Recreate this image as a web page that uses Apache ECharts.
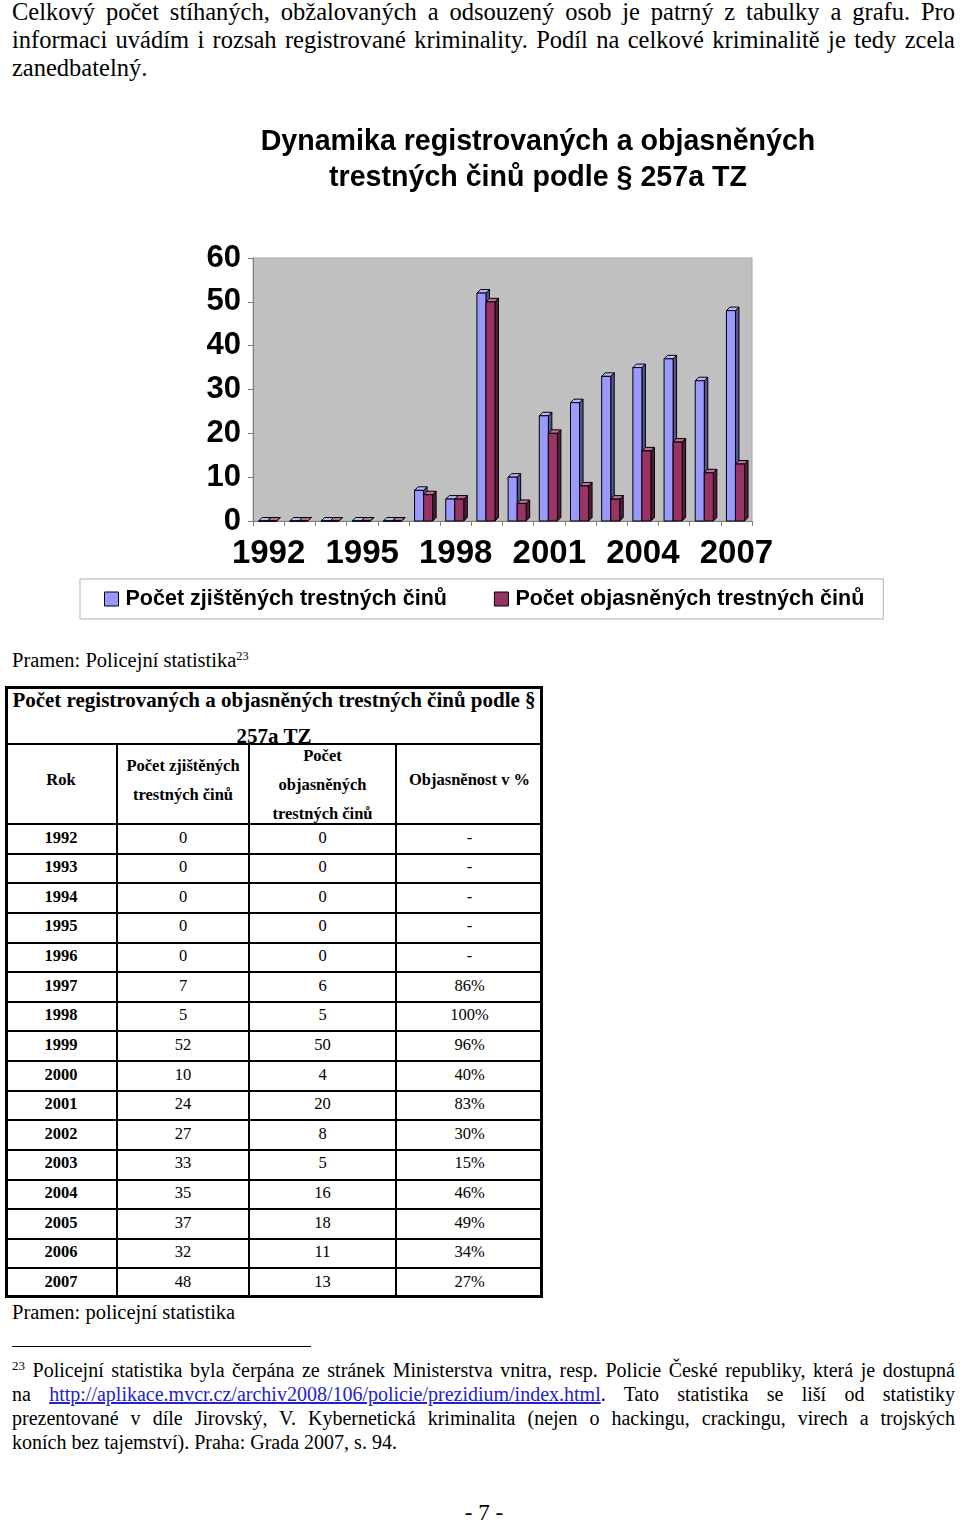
<!DOCTYPE html>
<html><head><meta charset="utf-8">
<script src="https://cdn.jsdelivr.net/npm/echarts/dist/echarts.min.js"></script>
<style>
html,body{margin:0;padding:0;background:#fff;}
body{width:960px;height:1524px;position:relative;overflow:hidden;font-family:"Liberation Serif","Times New Roman",serif;color:#000;}
.ln{position:absolute;white-space:nowrap;}
.ln>span{white-space:nowrap;}
.sup{font-size:0.6em;vertical-align:0.55em;line-height:0;}
a{color:#2222cc;text-decoration:underline;}
.hl{position:absolute;background:#000;}
.cell{position:absolute;text-align:center;white-space:nowrap;font-size:16.5px;}
.b{font-weight:bold;}
</style>
</head><body>
<div id="chart" style="position:absolute;left:0;top:100px;width:960px;height:530px;"></div>
<div id="tbl"></div>
<script>
// ---- data ----
const years = ['1992','1993','1994','1995','1996','1997','1998','1999','2000','2001','2002','2003','2004','2005','2006','2007'];
const registered = [0,0,0,0,0,7,5,52,10,24,27,33,35,37,32,48];
const solved = [0,0,0,0,0,6,5,50,4,20,8,5,16,18,11,13];
const clearance = ['-','-','-','-','-','86%','100%','96%','40%','83%','30%','15%','46%','49%','34%','27%'];
const seriesNames = ['Počet zjištěných trestných činů','Počet objasněných trestných činů'];
const yTicks = {min:0,max:60,interval:10};
const chartTitle = 'Dynamika registrovaných a objasněných\ntrestných činů podle § 257a TZ';
const tableTitle = ['Počet registrovaných a objasněných trestných činů podle §','257a TZ'];
const tableHeaders = [['Rok'],['Počet zjištěných','trestných činů'],['Počet','objasněných','trestných činů'],['Objasněnost v %']];

// ---- text lines ----
function addLine(html, left, cy, width, lh, fs, justify){
  const d=document.createElement('div');
  d.className='ln';
  d.style.left=left+'px'; d.style.top=(cy-lh/2)+'px';
  d.style.width=width+'px'; d.style.height=lh+'px'; d.style.lineHeight=lh+'px';
  d.style.fontSize=fs+'px';
  d.innerHTML='<span>'+html+'</span>';
  document.body.appendChild(d);
  const s=d.firstChild;
  const w=s.getBoundingClientRect().width;
  if(w>width){
    s.style.display='inline-block';s.style.transformOrigin='0 50%';
    s.style.transform='scaleX('+(width/w)+')';
  } else if(justify){
    const n=(s.textContent.match(/ /g)||[]).length;
    if(n) s.style.wordSpacing=((width-w)/n)+'px';
  }
  return d;
}
addLine('Celkový počet stíhaných, obžalovaných a odsouzený osob je patrný z tabulky a grafu. Pro',12,12,943,28,24.5,true);
addLine('informaci uvádím i rozsah registrované kriminality. Podíl na celkové kriminalitě je tedy zcela',12,40,943,28,24.5,true);
addLine('zanedbatelný.',12,68,943,28,24.5,false);

addLine('Pramen: Policejní statistika<span class="sup">23</span>',12,660,400,26,20.5,false);
addLine('Pramen: policejní statistika',12,1312,400,26,20.5,false);

const sep=document.createElement('div');sep.className='hl';
sep.style.cssText+='left:12px;top:1346px;width:299px;height:1px;';
document.body.appendChild(sep);

addLine('<span class="sup" style="font-size:0.65em">23</span> Policejní statistika byla čerpána ze stránek Ministerstva vnitra, resp. Policie České republiky, která je dostupná',12,1370,943,24,20,true);
addLine('na <a>http://aplikace.mvcr.cz/archiv2008/106/policie/prezidium/index.html</a>. Tato statistika se liší od statistiky',12,1394,943,24,20,true);
addLine('prezentované v díle Jirovský, V. Kybernetická kriminalita (nejen o hackingu, crackingu, virech a trojských',12,1418,943,24,20,true);
addLine('koních bez tajemství). Praha: Grada 2007, s. 94.',12,1442,943,24,20,false);
const pg=addLine('- 7 -',384,1513,200,26,23,false); pg.style.textAlign='center';

// ---- table ----
(function(){
  const T=document.getElementById('tbl');
  const L=5,R=543,TOP=686,BOT=1298,H1=744,H2=824;
  const cols=[5,117,249,396,543];
  function box(css){const d=document.createElement('div');d.style.cssText='position:absolute;'+css;T.appendChild(d);return d;}
  box('left:'+L+'px;top:'+TOP+'px;width:'+(R-L)+'px;height:'+(BOT-TOP)+'px;border:3px solid #000;box-sizing:border-box;');
  const tt=box('left:'+(L+3)+'px;top:'+(TOP+3)+'px;width:'+(R-L-6)+'px;height:'+(H1-TOP-4)+'px;overflow:hidden;text-align:center;font-weight:bold;font-size:21px;line-height:36px;');
  tt.innerHTML='<div style="margin-top:-7px">'+tableTitle.join('<br>')+'</div>';
  const rowH=(BOT-H2)/years.length;
  const hs=[H1,H2];
  for(let i=1;i<years.length;i++) hs.push(H2+i*rowH);
  hs.forEach(y=>box('left:'+L+'px;top:'+(Math.round(y)-1)+'px;width:'+(R-L)+'px;height:2px;background:#000;'));
  for(let c=1;c<4;c++) box('left:'+(cols[c]-1)+'px;top:'+H1+'px;width:2px;height:'+(BOT-H1)+'px;background:#000;');
  const hCenters=[[780],[766,795],[756,785,814],[780]];
  tableHeaders.forEach((lines,c)=>{
    const cx=(cols[c]+cols[c+1])/2;
    lines.forEach((t,k)=>{
      const d=box('left:'+(cx-80)+'px;width:160px;top:'+(hCenters[c][k]-12)+'px;height:24px;line-height:24px;');
      d.className='cell b';d.textContent=t;
    });
  });
  years.forEach((y,i)=>{
    const cy=H2+i*rowH+13.5;
    const vals=[y,String(registered[i]),String(solved[i]),clearance[i]];
    vals.forEach((v,c)=>{
      const cx=(cols[c]+cols[c+1])/2;
      const d=box('left:'+(cx-60)+'px;width:120px;top:'+(cy-11)+'px;height:22px;line-height:22px;');
      d.className='cell'+(c===0?' b':'');d.textContent=v;
    });
  });
})();

// ---- chart ----
const chart=echarts.init(document.getElementById('chart'),null,{renderer:'canvas'});
function shade(hex,f){
  const n=parseInt(hex.slice(1),16);let r=n>>16,g=(n>>8)&255,b=n&255;
  if(f>0){r=r+(255-r)*f;g=g+(255-g)*f;b=b+(255-b)*f;}else{r=r*(1+f);g=g*(1+f);b=b*(1+f);}
  return 'rgb('+Math.round(r)+','+Math.round(g)+','+Math.round(b)+')';
}
function render3d(s0,s1,color){
  return function(params,api){
    const cat=api.value(0),v=api.value(1);
    const base=api.coord([cat,0]),top=api.coord([cat,v]);
    const bw=api.size([1,0])[0];
    const x0=base[0]+s0*bw,x1=base[0]+s1*bw,yb=base[1],yt=top[1],d=3.5;
    const st={stroke:'#000',lineWidth:1};
    return {type:'group',children:[
      {type:'polygon',shape:{points:[[x1,yt],[x1+d,yt-d],[x1+d,yb-d],[x1,yb]]},style:Object.assign({fill:shade(color,-0.45)},st)},
      {type:'polygon',shape:{points:[[x0,yt],[x1,yt],[x1+d,yt-d],[x0+d,yt-d]]},style:Object.assign({fill:shade(color,0.3)},st)},
      {type:'rect',shape:{x:x0,y:yt,width:x1-x0,height:yb-yt},style:Object.assign({fill:color},st)}
    ]};
  };
}
const colors=['#9999FF','#993366'];
const font='"Liberation Sans",Arial,sans-serif';
chart.setOption({
  animation:false,
  title:{text:chartTitle,left:533,top:19,textAlign:'center',
    textStyle:{fontFamily:font,fontSize:28.6,fontWeight:'bold',color:'#000',lineHeight:36}},
  legend:{left:80,top:479,orient:'horizontal',icon:'rect',itemWidth:14,itemHeight:14,itemGap:47,
    padding:[9,19,9,24],borderColor:'#b0b0b0',borderWidth:1,
    itemStyle:{borderColor:'#000',borderWidth:1},
    textStyle:{fontFamily:font,fontSize:21.5,fontWeight:'bold',color:'#000',padding:[0,0,0,2]},
    data:seriesNames},
  grid:{left:253,top:158,width:499,height:263,show:true,backgroundColor:'#C0C0C0',borderColor:'#a8a8a8',borderWidth:1},
  xAxis:{type:'category',data:years,boundaryGap:true,
    axisLine:{lineStyle:{color:'#808080',width:1}},
    axisTick:{show:true,interval:0,length:5,lineStyle:{color:'#808080'}},
    axisLabel:{interval:2,fontFamily:font,fontSize:33,fontWeight:'bold',color:'#000',margin:16}},
  yAxis:{type:'value',min:yTicks.min,max:yTicks.max,interval:yTicks.interval,
    axisLine:{show:true,lineStyle:{color:'#808080',width:1}},
    axisTick:{show:true,length:5,lineStyle:{color:'#808080'}},
    splitLine:{show:false},
    axisLabel:{fontFamily:font,fontSize:31,fontWeight:'bold',color:'#000',margin:12}},
  series:[
    {name:seriesNames[0],type:'custom',renderItem:render3d(-0.32,-0.03,colors[0]),
      itemStyle:{color:colors[0],borderColor:'#000'},encode:{x:0,y:1},
      data:registered.map((v,i)=>[i,v])},
    {name:seriesNames[1],type:'custom',renderItem:render3d(-0.03,0.26,colors[1]),
      itemStyle:{color:colors[1],borderColor:'#000'},encode:{x:0,y:1},
      data:solved.map((v,i)=>[i,v])}
  ]
});
</script>
</body></html>
